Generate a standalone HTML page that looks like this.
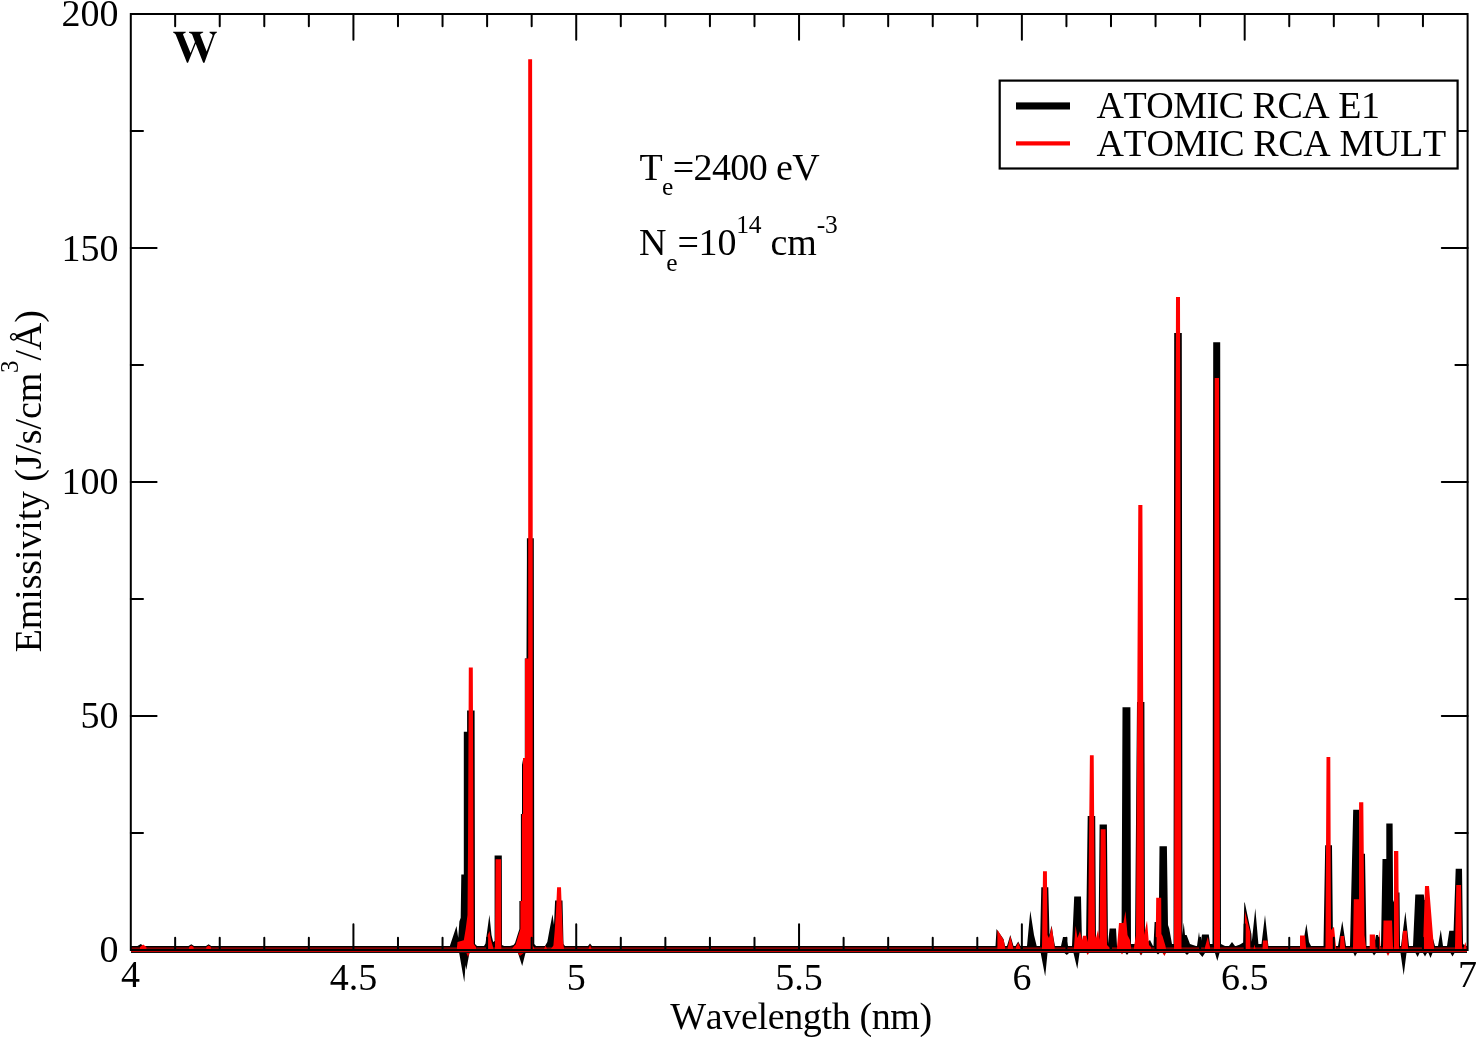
<!DOCTYPE html>
<html><head><meta charset="utf-8"><title>W emissivity</title>
<style>html,body{margin:0;padding:0;background:#fff;}body{width:1476px;height:1037px;overflow:hidden;}svg{display:block;will-change:transform;}text{font-family:"Liberation Serif",serif;fill:#000;font-kerning:none;}</style></head><body>
<svg width="1476" height="1037" viewBox="0 0 1476 1037">
<rect x="0" y="0" width="1476" height="1037" fill="#fff"/>
<path d="M131.0,953.0 L131.0,946.0 L137.5,946.0 L137.5,946.0 L140.8,944.0 L143.5,946.0 L143.5,946.0 L188.5,946.0 L188.5,946.0 L191.3,944.2 L194.0,946.0 L194.0,946.0 L206.0,946.0 L206.0,946.0 L208.6,944.2 L211.2,946.0 L211.2,946.0 L450.0,946.0 L450.0,945.4 L456.5,926.0 L458.2,937.8 L459.4,921.5 L460.7,917.8 L461.3,874.5 L463.8,874.5 L463.8,731.7 L467.1,731.7 L467.1,710.5 L474.6,710.5 L475.0,944.0 L477.0,946.0 L477.0,946.0 L484.0,946.0 L484.0,946.0 L485.5,943.4 L489.4,914.8 L491.5,935.0 L493.2,941.9 L494.6,941.0 L494.6,855.4 L501.8,855.4 L502.0,945.0 L504.0,946.0 L504.0,946.0 L510.0,946.0 L510.0,946.0 L513.5,945.0 L515.0,943.0 L517.5,935.0 L519.4,929.0 L519.4,901.0 L520.9,901.0 L520.9,814.0 L522.0,814.0 L522.0,765.0 L523.3,758.0 L524.8,758.0 L524.8,658.5 L526.5,658.5 L526.9,560.0 L526.9,538.2 L533.8,538.2 L534.3,944.0 L536.0,946.0 L536.0,946.0 L545.0,946.0 L545.0,946.0 L547.3,942.0 L549.5,930.0 L552.5,914.3 L554.0,925.0 L555.1,900.4 L562.5,900.4 L563.5,944.0 L565.0,946.0 L565.0,946.0 L588.0,946.0 L588.0,946.0 L590.0,943.5 L592.0,946.0 L592.0,946.0 L995.5,946.0 L995.5,946.0 L996.5,929.0 L1003.5,939.0 L1005.0,946.0 L1005.0,946.0 L1007.0,946.0 L1007.0,946.0 L1010.3,935.0 L1013.5,946.0 L1013.5,946.0 L1015.5,946.0 L1015.5,946.0 L1018.2,941.5 L1020.5,946.0 L1020.5,946.0 L1027.0,946.0 L1027.0,946.0 L1030.3,910.7 L1034.0,935.0 L1036.7,946.0 L1036.7,946.0 L1040.0,946.0 L1040.0,946.0 L1041.3,887.2 L1048.3,887.2 L1049.5,935.0 L1051.5,925.5 L1053.5,938.0 L1055.0,946.0 L1055.0,946.0 L1061.0,946.0 L1061.0,946.0 L1063.0,937.0 L1066.0,937.0 L1068.0,946.0 L1068.0,946.0 L1072.0,946.0 L1072.0,946.0 L1074.2,896.5 L1081.0,896.5 L1082.0,944.0 L1086.0,944.0 L1087.7,816.0 L1095.2,816.0 L1096.0,944.0 L1098.5,944.0 L1099.6,824.5 L1106.9,824.5 L1108.0,944.0 L1109.6,928.5 L1116.0,928.5 L1117.0,946.0 L1117.0,946.0 L1121.5,946.0 L1121.5,946.0 L1122.5,707.3 L1130.4,707.3 L1131.0,944.0 L1135.0,944.0 L1137.0,702.0 L1144.4,702.0 L1145.0,944.0 L1150.0,940.0 L1153.0,946.0 L1153.0,946.0 L1153.5,946.0 L1153.5,946.0 L1154.6,922.0 L1158.8,922.0 L1159.5,846.3 L1166.9,846.3 L1168.0,925.0 L1169.2,928.4 L1172.0,944.0 L1173.5,944.0 L1174.2,333.0 L1181.8,333.0 L1182.5,935.0 L1183.7,922.6 L1185.0,935.0 L1186.6,935.0 L1190.0,944.0 L1196.0,946.0 L1196.0,946.0 L1197.0,946.0 L1197.0,946.0 L1199.0,932.0 L1200.5,944.0 L1202.0,934.5 L1208.8,934.5 L1210.0,944.0 L1212.5,944.0 L1213.2,342.2 L1220.2,342.2 L1221.0,944.0 L1225.0,946.0 L1225.0,946.0 L1229.0,946.0 L1229.0,946.0 L1232.0,942.0 L1235.0,946.0 L1235.0,946.0 L1236.0,946.0 L1236.0,946.0 L1240.0,944.5 L1243.2,942.5 L1244.3,902.4 L1244.8,902.4 L1251.4,934.0 L1251.8,941.7 L1255.3,908.2 L1258.4,944.0 L1261.5,944.0 L1265.0,915.0 L1268.4,946.0 L1268.4,946.0 L1300.0,946.0 L1300.0,946.0 L1303.0,944.0 L1306.4,923.7 L1309.0,942.0 L1311.0,946.0 L1311.0,946.0 L1323.5,946.0 L1323.5,946.0 L1325.2,845.3 L1332.0,845.3 L1333.0,944.0 L1335.0,946.0 L1335.0,946.0 L1338.0,946.0 L1338.0,946.0 L1342.3,921.0 L1346.0,946.0 L1346.0,946.0 L1350.0,946.0 L1350.0,946.0 L1353.2,809.7 L1359.1,809.7 L1360.0,853.8 L1365.0,853.8 L1366.5,946.0 L1366.5,946.0 L1374.0,946.0 L1374.0,946.0 L1376.0,935.0 L1378.0,935.0 L1380.0,946.0 L1380.0,946.0 L1381.0,946.0 L1381.0,946.0 L1382.5,859.0 L1386.3,859.0 L1386.3,823.5 L1392.6,823.5 L1393.1,900.0 L1395.0,905.0 L1397.5,892.5 L1399.5,892.5 L1400.0,946.0 L1400.0,946.0 L1401.0,946.0 L1401.0,946.0 L1405.4,911.6 L1409.0,946.0 L1409.0,946.0 L1413.0,946.0 L1413.0,946.0 L1415.3,894.6 L1423.8,894.6 L1424.5,900.0 L1429.0,900.0 L1432.0,935.0 L1435.0,946.0 L1435.0,946.0 L1438.0,946.0 L1438.0,946.0 L1440.8,929.7 L1443.0,946.0 L1443.0,946.0 L1447.0,946.0 L1447.0,946.0 L1449.3,930.7 L1453.6,930.7 L1455.7,868.7 L1462.0,868.7 L1463.0,944.0 L1466.0,946.0 L1466.0,946.0 L1467.0,946.0 L1467.0,953.0 Z" fill="#000"/>
<path d="M459.2,953.0 L464.3,982.3 L465.5,965.0 L466.3,970.0 L469.4,953.0 Z M518.0,953.0 L522.2,966.0 L525.5,953.0 Z M1040.7,953.0 L1045.2,976.5 L1047.5,953.0 Z M1064.5,953.0 L1066.8,955.0 L1069.0,953.0 Z M1073.5,953.0 L1077.3,969.0 L1079.5,953.0 Z M1199.0,953.0 L1202.4,957.0 L1205.0,953.0 Z M1215.0,953.0 L1217.3,960.9 L1219.5,953.0 Z M1400.5,953.0 L1403.7,975.3 L1406.5,953.0 Z M1353.5,953.0 L1355.0,956.5 L1357.0,953.0 Z M1372.5,953.0 L1374.0,955.5 L1376.0,953.0 Z M1415.5,953.0 L1417.6,957.0 L1419.5,953.0 Z M1423.0,953.0 L1425.0,956.5 L1427.0,953.0 Z M1428.5,953.0 L1430.5,958.0 L1432.5,953.0 Z M1450.5,953.0 L1452.5,956.5 L1454.5,953.0 Z M1185.0,953.0 L1187.0,955.0 L1189.0,953.0 Z M1125.5,953.0 L1127.0,955.0 L1128.5,953.0 Z M1139.5,953.0 L1141.0,955.5 L1142.5,953.0 Z M1156.5,953.0 L1158.0,954.5 L1159.5,953.0 Z " fill="#000"/>
<rect x="131" y="947" width="1336" height="1" fill="#5a0000"/>
<rect x="131" y="948" width="1336" height="1" fill="#8a0000"/>
<path d="M131.0,949.0 L131.0,949.0 L140.0,949.0 L140.0,947.0 L143.2,944.4 L146.4,947.0 L146.4,949.0 L189.0,949.0 L189.0,947.0 L191.3,945.6 L193.6,947.0 L193.6,949.0 L206.3,949.0 L206.3,947.0 L208.6,945.4 L211.0,947.0 L211.0,949.0 L457.0,949.0 L457.0,947.0 L457.5,942.0 L463.8,940.3 L465.7,929.0 L467.5,915.0 L468.0,850.0 L468.8,667.4 L472.8,667.4 L473.3,800.0 L473.8,944.0 L476.0,947.0 L476.0,949.0 L486.5,949.0 L486.5,947.0 L487.8,935.0 L489.5,931.0 L491.0,940.0 L493.0,947.0 L493.0,949.0 L495.0,949.0 L495.0,947.0 L495.6,859.3 L501.0,859.3 L501.3,947.0 L501.3,949.0 L512.0,949.0 L512.0,949.0 L514.0,946.0 L515.7,944.6 L518.5,935.0 L520.4,929.0 L520.4,901.0 L521.9,901.0 L521.9,814.0 L523.0,814.0 L523.0,758.0 L525.0,758.0 L525.0,658.5 L528.2,658.5 L528.2,59.3 L532.1,59.3 L532.7,520.0 L532.7,945.0 L534.5,949.0 L534.5,949.0 L544.0,949.0 L544.0,949.0 L545.5,945.5 L547.0,949.0 L547.0,949.0 L551.0,949.0 L551.0,949.0 L553.4,945.6 L554.7,930.8 L556.0,912.0 L557.1,887.2 L561.0,887.2 L562.0,915.0 L563.0,940.0 L564.0,949.0 L564.0,949.0 L588.5,949.0 L588.5,949.0 L590.0,944.8 L591.5,949.0 L591.5,949.0 L997.4,949.0 L997.4,947.0 L997.4,929.8 L1003.7,940.0 L1005.0,947.0 L1005.0,949.0 L1007.8,949.0 L1007.8,947.0 L1010.3,936.0 L1013.0,947.0 L1013.0,949.0 L1016.0,949.0 L1016.0,947.0 L1018.2,942.5 L1020.0,947.0 L1020.0,949.0 L1042.0,949.0 L1042.0,947.0 L1043.0,871.2 L1046.9,871.2 L1047.5,935.0 L1049.0,938.0 L1051.8,926.3 L1054.6,947.0 L1054.6,949.0 L1074.0,949.0 L1074.0,947.0 L1075.6,925.8 L1077.5,938.0 L1080.0,931.0 L1082.0,940.0 L1083.0,935.8 L1086.3,935.8 L1088.0,942.0 L1089.9,755.3 L1093.7,755.3 L1095.0,935.0 L1096.0,938.0 L1098.0,930.0 L1099.5,940.0 L1100.7,829.2 L1105.6,829.2 L1107.0,945.0 L1109.0,947.0 L1109.0,949.0 L1117.0,949.0 L1117.0,947.0 L1119.0,923.0 L1123.4,923.0 L1125.5,911.0 L1127.5,935.0 L1130.0,940.0 L1131.0,947.0 L1131.0,949.0 L1134.0,949.0 L1134.0,947.0 L1136.0,935.0 L1138.3,505.0 L1142.4,505.0 L1144.1,935.0 L1147.0,920.6 L1149.0,945.0 L1151.0,947.0 L1151.0,949.0 L1155.6,949.0 L1155.6,949.0 L1156.2,897.8 L1161.2,897.8 L1161.4,934.0 L1162.5,936.0 L1165.5,946.0 L1166.0,949.0 L1166.0,949.0 L1174.0,949.0 L1174.0,947.0 L1176.0,297.1 L1180.0,297.1 L1181.5,947.0 L1181.5,949.0 L1205.0,949.0 L1205.0,947.0 L1207.8,937.0 L1210.0,947.0 L1210.0,949.0 L1214.0,949.0 L1214.0,947.0 L1214.7,378.1 L1219.0,378.1 L1220.0,947.0 L1220.0,949.0 L1244.9,949.0 L1244.9,949.0 L1244.9,911.0 L1250.3,932.4 L1250.3,949.0 L1250.3,949.0 L1253.5,949.0 L1253.5,949.0 L1254.5,944.4 L1255.5,949.0 L1255.5,949.0 L1262.6,949.0 L1262.6,947.0 L1263.0,940.5 L1267.6,940.5 L1268.0,947.0 L1268.0,949.0 L1300.0,949.0 L1300.0,947.0 L1300.0,935.5 L1305.0,935.5 L1306.0,947.0 L1306.0,949.0 L1325.5,949.0 L1325.5,947.0 L1326.5,757.0 L1330.3,757.0 L1331.0,930.0 L1334.0,926.7 L1336.0,947.0 L1336.0,949.0 L1340.0,949.0 L1340.0,947.0 L1340.5,936.0 L1344.0,936.0 L1345.0,947.0 L1345.0,949.0 L1353.0,949.0 L1353.0,947.0 L1353.8,899.3 L1359.0,899.3 L1359.1,802.3 L1363.3,802.3 L1364.5,935.0 L1366.0,947.0 L1366.0,949.0 L1369.7,949.0 L1369.7,947.0 L1369.7,934.5 L1375.0,934.5 L1375.5,947.0 L1375.5,949.0 L1378.0,949.0 L1378.0,947.0 L1379.3,929.6 L1380.5,947.0 L1380.5,949.0 L1383.0,949.0 L1383.0,947.0 L1383.5,920.5 L1392.0,920.5 L1393.0,947.0 L1393.0,949.0 L1394.0,949.0 L1394.0,947.0 L1394.0,851.1 L1398.3,851.1 L1399.0,947.0 L1399.0,949.0 L1401.5,949.0 L1401.5,947.0 L1403.0,930.7 L1407.0,930.7 L1408.0,947.0 L1408.0,949.0 L1423.0,949.0 L1423.0,947.0 L1425.0,886.0 L1429.0,886.0 L1433.4,941.0 L1434.0,947.0 L1434.0,949.0 L1455.0,949.0 L1455.0,947.0 L1456.3,885.0 L1461.0,885.0 L1462.0,947.0 L1462.0,949.0 L1464.0,949.0 L1464.0,947.0 L1465.3,942.0 L1466.5,947.0 L1466.5,949.0 L1467.0,949.0 L1467.0,949.0 Z" fill="#f00"/>
<path d="M466.0,952.0 L468.0,957.0 L470.0,952.0 Z M517.0,952.0 L520.0,956.0 L525.0,952.0 Z M1086.0,952.0 L1087.7,955.0 L1089.5,952.0 Z M1162.0,952.0 L1164.4,956.0 L1166.5,952.0 Z M1386.0,952.0 L1388.0,956.0 L1390.0,952.0 Z M1120.5,952.0 L1122.0,954.5 L1123.5,952.0 Z M1139.5,952.0 L1141.0,955.0 L1142.5,952.0 Z " fill="#e00000"/>
<rect x="131" y="950.6" width="1336" height="1.4" fill="#c80000"/>
<rect x="131" y="952" width="1336" height="1" fill="#111"/>
<rect x="130.8" y="14" width="1336.8" height="936" fill="none" stroke="#000" stroke-width="2"/>
<path d="M175.16,950 V937.8 M175.16,14 V26.2 M219.73,950 V937.8 M219.73,14 V26.2 M264.29,950 V937.8 M264.29,14 V26.2 M308.85,950 V937.8 M308.85,14 V26.2 M353.42,950 V924.2 M353.42,14 V39.8 M397.98,950 V937.8 M397.98,14 V26.2 M442.54,950 V937.8 M442.54,14 V26.2 M487.11,950 V937.8 M487.11,14 V26.2 M531.67,950 V937.8 M531.67,14 V26.2 M576.23,950 V924.2 M576.23,14 V39.8 M620.80,950 V937.8 M620.80,14 V26.2 M665.36,950 V937.8 M665.36,14 V26.2 M709.92,950 V937.8 M709.92,14 V26.2 M754.49,950 V937.8 M754.49,14 V26.2 M799.05,950 V924.2 M799.05,14 V39.8 M843.61,950 V937.8 M843.61,14 V26.2 M888.18,950 V937.8 M888.18,14 V26.2 M932.74,950 V937.8 M932.74,14 V26.2 M977.30,950 V937.8 M977.30,14 V26.2 M1021.87,950 V924.2 M1021.87,14 V39.8 M1066.43,950 V937.8 M1066.43,14 V26.2 M1110.99,950 V937.8 M1110.99,14 V26.2 M1155.56,950 V937.8 M1155.56,14 V26.2 M1200.12,950 V937.8 M1200.12,14 V26.2 M1244.68,950 V924.2 M1244.68,14 V39.8 M1289.25,950 V937.8 M1289.25,14 V26.2 M1333.81,950 V937.8 M1333.81,14 V26.2 M1378.37,950 V937.8 M1378.37,14 V26.2 M1422.94,950 V937.8 M1422.94,14 V26.2 M130.8,833.00 H143.0 M1467.6,833.00 H1455.3999999999999 M130.8,716.00 H156.60000000000002 M1467.6,716.00 H1441.8 M130.8,599.00 H143.0 M1467.6,599.00 H1455.3999999999999 M130.8,482.00 H156.60000000000002 M1467.6,482.00 H1441.8 M130.8,365.00 H143.0 M1467.6,365.00 H1455.3999999999999 M130.8,248.00 H156.60000000000002 M1467.6,248.00 H1441.8 M130.8,131.00 H143.0 M1467.6,131.00 H1455.3999999999999" stroke="#000" stroke-width="2" stroke-linecap="round" fill="none"/>
<text x="118.5" y="25.7" font-size="38" text-anchor="end">200</text>
<text x="118.5" y="261.2" font-size="38" text-anchor="end">150</text>
<text x="118.5" y="493.5" font-size="38" text-anchor="end">100</text>
<text x="118.5" y="728.3" font-size="38" text-anchor="end">50</text>
<text x="118.5" y="961.5" font-size="38" text-anchor="end">0</text>
<text x="130.6" y="987.2" font-size="38" text-anchor="middle">4</text>
<text x="353.4" y="989.5" font-size="38" text-anchor="middle">4.5</text>
<text x="576.2" y="989.5" font-size="38" text-anchor="middle">5</text>
<text x="799.1" y="989.5" font-size="38" text-anchor="middle">5.5</text>
<text x="1021.9" y="989.5" font-size="38" text-anchor="middle">6</text>
<text x="1244.7" y="989.5" font-size="38" text-anchor="middle">6.5</text>
<text x="1467.5" y="987.2" font-size="38" text-anchor="middle">7</text>
<text x="670.3" y="1028.9" font-size="38" textLength="261.9" lengthAdjust="spacing">Wavelength (nm)</text>
<text transform="translate(40.8,652.2) rotate(-90)" font-size="38" textLength="342" lengthAdjust="spacing">Emissivity (J/s/cm<tspan font-size="25" dy="-22.5">3</tspan><tspan dy="22.5">/Å)</tspan></text>
<path d="M173.12,31.85 L185.76,31.85 L185.76,32.47 L183.38,33.79 L183.01,34.52 L190.53,52.93 L194.96,41.93 L192.18,34.52 L191.44,33.68 L189.06,32.69 L189.06,31.85 L203.17,31.85 L203.17,32.47 L200.61,33.68 L200.06,34.52 L206.66,51.46 L212.60,35.51 L212.16,34.16 L209.59,32.69 L209.59,31.85 L216.92,31.85 L216.92,32.47 L215.45,33.50 L214.54,34.78 L204.46,62.64 L203.17,62.64 L195.70,43.76 L188.04,62.64 L186.97,62.64 L175.68,34.52 L174.77,33.43 L173.12,32.47 Z" fill="#000"/>
<text x="639.5" y="179.8" font-size="38" textLength="180.2" lengthAdjust="spacing">T<tspan font-size="25.5" dy="15.5">e</tspan><tspan dy="-15.5">=2400 eV</tspan></text>
<text x="639" y="255.4" font-size="38" textLength="198.7" lengthAdjust="spacing">N<tspan font-size="25.5" dy="15.5">e</tspan><tspan dy="-15.5">=10</tspan><tspan font-size="25.5" dy="-22.7">14</tspan><tspan dy="22.7"> cm</tspan><tspan font-size="25.5" dy="-22.7">-3</tspan></text>
<rect x="999.7" y="80.6" width="457.9" height="87.9" fill="#fff" stroke="#000" stroke-width="2.2"/>
<rect x="1016" y="102.4" width="54" height="7.1" fill="#000"/>
<rect x="1016" y="141.3" width="54" height="4.2" fill="#f00"/>
<text x="1096.5" y="117.9" font-size="38" textLength="283.5" lengthAdjust="spacing">ATOMIC RCA E1</text>
<text x="1096.5" y="155.7" font-size="38" textLength="349.6" lengthAdjust="spacing">ATOMIC RCA MULT</text>
</svg>
</body></html>
